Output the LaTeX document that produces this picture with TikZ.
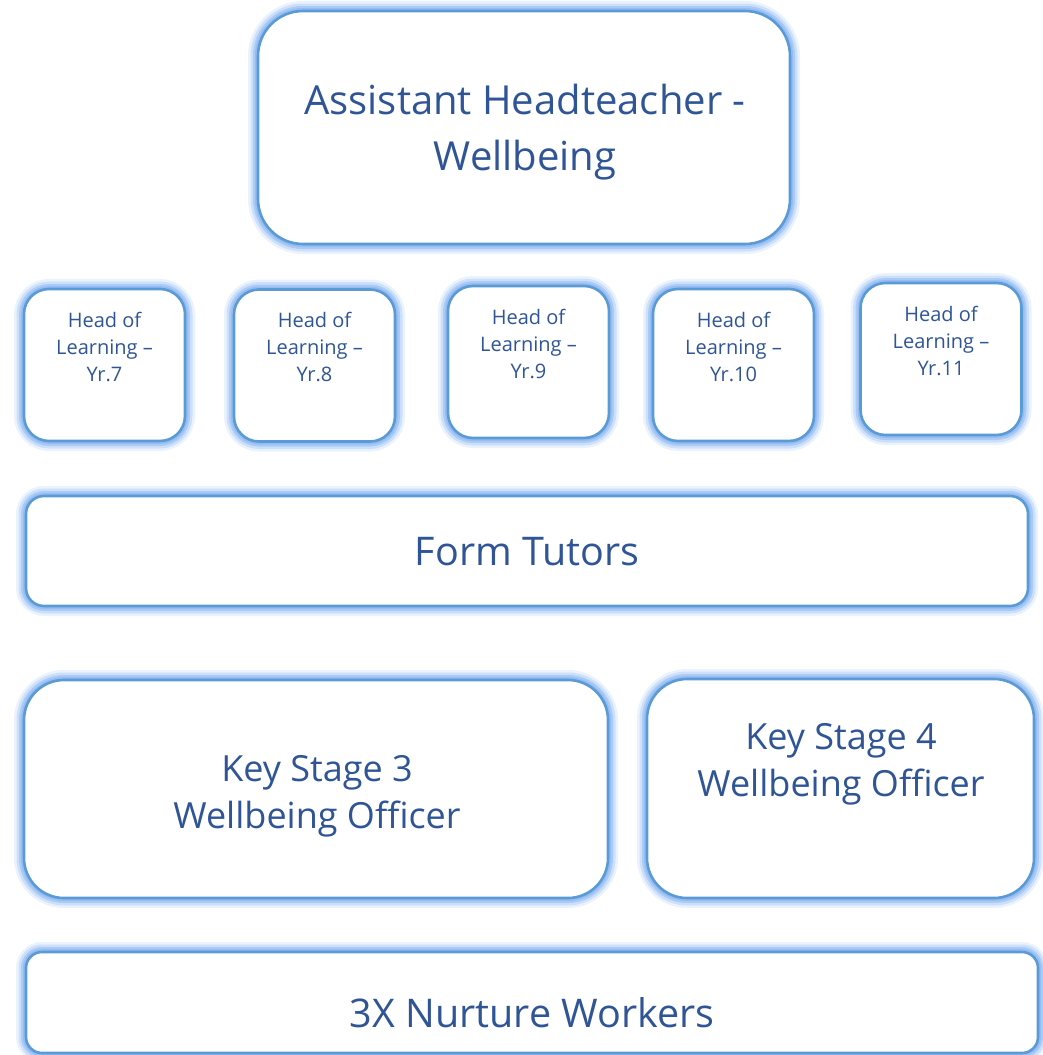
\documentclass[tikz,border=0pt]{standalone}
\usepackage{fontspec}
\setmainfont{Open Sans}
\definecolor{txtblue}{HTML}{2F5597}
\definecolor{edgeblue}{HTML}{5B9BD5}
\definecolor{glowblue}{HTML}{8AB6F2}
\tikzset{
  box/.style={draw=edgeblue, line width=2.6pt, fill=white, inner sep=0pt,
    preaction={draw=glowblue, line width=20pt, draw opacity=0.18},
    preaction={draw=glowblue, line width=15pt, draw opacity=0.3},
    preaction={draw=glowblue, line width=10pt, draw opacity=0.5},
    preaction={draw=glowblue, line width=6pt, draw opacity=0.65}},
  txt/.style={text=txtblue, align=center, inner sep=0pt},
  big/.style={font=\fontsize{40}{56}\selectfont},
  mid/.style={font=\fontsize{36}{47}\selectfont},
  wide/.style={font=\fontsize{39.5}{47}\selectfont},
  small/.style={font=\fontsize{20}{27}\selectfont},
  hol/.style={box, minimum width=161pt, minimum height=152pt, rounded corners=25pt}
}
\begin{document}
\begin{tikzpicture}[x=1pt,y=-1pt]
\useasboundingbox (0,0) rectangle (1043,1055);
\begin{scope}
\clip (0,0) rectangle (1043,1055);
% top
\node[box, minimum width=532pt, minimum height=233pt, rounded corners=45pt] (ahw) at (524,127.5) {};
\node[txt, big] (ahwt) at (525,132) {Assistant Headteacher -\\Wellbeing};
% heads of learning
\node[hol] (h7) at (104.5,365) {};
\node[hol] (h8) at (314.5,365.5) {};
\node[hol] (h9) at (528.5,362) {};
\node[hol] (h10) at (733.5,365) {};
\node[hol] (h11) at (941,359) {};
\node[txt, small] (h7t) at (104.5,346.5) {Head of\\Learning –\\Yr.7};
\node[txt, small] (h8t) at (314.5,346.5) {Head of\\Learning –\\Yr.8};
\node[txt, small] (h9t) at (528.5,343.5) {Head of\\Learning –\\Yr.9};
\node[txt, small] (h10t) at (733.5,346.5) {Head of\\Learning –\\Yr.10};
\node[txt, small] (h11t) at (941,340.5) {Head of\\Learning –\\Yr.11};
% form tutors
\node[box, minimum width=1002pt, minimum height=110pt, rounded corners=18pt] (ft) at (527,551) {};
\node[txt, wide] (ftt) at (527,552) {Form Tutors};
% key stages
\node[box, minimum width=584pt, minimum height=218pt, rounded corners=40pt] (ks3) at (316,789) {};
\node[txt, mid] (ks3t) at (317,796) {Key Stage 3\\Wellbeing Officer};
\node[box, minimum width=387pt, minimum height=219pt, rounded corners=40pt] (ks4) at (840.5,788.5) {};
\node[txt, mid] (ks4t) at (841,764.5) {Key Stage 4\\Wellbeing Officer};
% nurture
\node[box, minimum width=1012pt, minimum height=101pt, rounded corners=16pt] (nw) at (532,1002.5) {};
\node[txt, wide] (nwt) at (532,1013) {3X Nurture Workers};
\end{scope}
\end{tikzpicture}
\end{document}
